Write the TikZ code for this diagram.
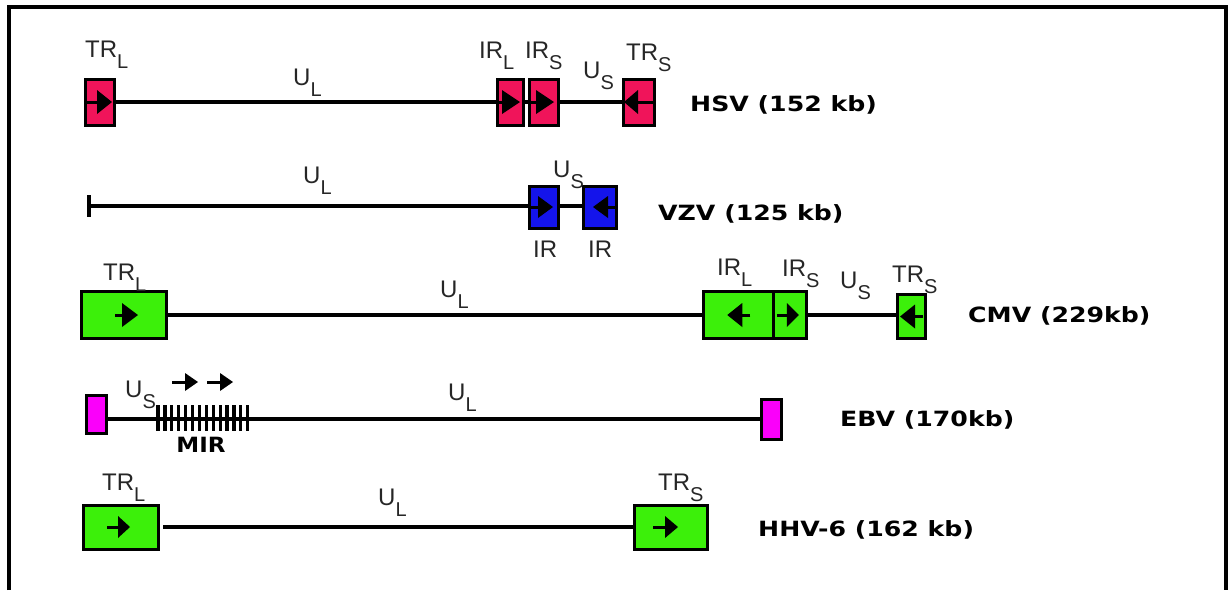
\documentclass[tikz,border=0pt]{standalone}
\usepackage{fontspec}
\setmainfont{Liberation Sans}
\newfontfamily\titlefont{DejaVu Sans}
\usetikzlibrary{calc}
\definecolor{hsvpink}{RGB}{240,20,90}
\definecolor{vzvblue}{RGB}{20,20,235}
\definecolor{cmvgreen}{RGB}{60,240,10}
\definecolor{ebvmag}{RGB}{250,0,250}
\newcommand{\lbl}[2]{#1\raisebox{-11pt}{\fontsize{20}{20}\selectfont #2}}
\newcommand{\ttltext}[1]{\scalebox{1.26}[1.05]{#1}}
\newcommand{\inarrow}[6]{%
  \fill[shift={(#1.center)}, xscale=#2] (#4,-#6) -- (#5,0) -- (#4,#6) -- cycle;
  \draw[shift={(#1.center)}, xscale=#2, line width=3pt] (#3,0) -- (#4+1,0);}
\tikzset{
  gbox/.style n args={2}{draw=black, line width=3pt, inner sep=0pt, minimum width=#1, minimum height=#2},
  dna/.style={line width=3.5pt},
  lab/.style={anchor=base west, inner sep=0pt, text=black!85, font=\fontsize{24}{24}\selectfont},
  ttl/.style={anchor=west, inner sep=0pt, font=\titlefont\bfseries\fontsize{20}{20}\selectfont},
  frameline/.style={line width=4pt},
}
\begin{document}
\begin{tikzpicture}[x=1pt,y=-1pt]
\useasboundingbox (0,0) rectangle (1228,590);
% frame
\coordinate (f1) at (9,590);
\coordinate (f2) at (9,7);
\coordinate (f3) at (1226,7);
\coordinate (f4) at (1226,590);
\draw[frameline] (f1) -- (f2) -- (f3) -- (f4);

% ---------- HSV ----------
\node[gbox={29}{46}, fill=hsvpink] (h_trl) at (100,102) {};
\node[gbox={26}{46}, fill=hsvpink] (h_irl) at (510,102) {};
\node[gbox={29}{46}, fill=hsvpink] (h_irs) at (544,102) {};
\node[gbox={31}{46}, fill=hsvpink] (h_trs) at (639,102) {};
\draw[dna] (h_trl.east) -- (h_irl.west);
\draw[dna] (h_irl.east) -- (h_irs.west);
\draw[dna] (h_irs.east) -- (h_trs.west);
\inarrow{h_trl}{1}{-15}{-3}{12}{12}
\inarrow{h_irl}{1}{-13}{-8}{10}{12}
\inarrow{h_irs}{1}{-14}{-8}{10}{12}
\inarrow{h_trs}{-1}{-16}{1}{15}{12}
\node[lab] (h_l1) at (85,57) {\lbl{TR}{L}};
\node[lab] (h_l2) at (293,85) {\lbl{U}{L}};
\node[lab] (h_l3) at (479,58) {\lbl{IR}{L}};
\node[lab] (h_l4) at (525,58) {\lbl{IR}{S}};
\node[lab] (h_l5) at (583,78) {\lbl{U}{S}};
\node[lab] (h_l6) at (626,60) {\lbl{TR}{S}};
\node[ttl] (h_t) at (690,105) {\ttltext{HSV (152 kb)}};

% ---------- VZV ----------
\coordinate (v_start) at (89,206);
\draw[line width=3.5pt] (89,195) -- (89,217);
\node[gbox={29}{42}, fill=vzvblue] (v_b1) at (544,207) {};
\node[gbox={33}{42}, fill=vzvblue] (v_b2) at (600,207) {};
\draw[dna] (v_start) -- (v_b1.west |- v_start);
\draw[dna] (v_b1.east |- v_start) -- (v_b2.west |- v_start);
\inarrow{v_b1}{1}{-13}{-6}{9}{11}
\inarrow{v_b2}{-1}{-15}{-8}{7}{11}
\node[lab] (v_l1) at (303,183) {\lbl{U}{L}};
\node[lab] (v_l2) at (553,177) {\lbl{U}{S}};
\node[lab] (v_l3) at (533,257) {IR};
\node[lab] (v_l4) at (588,257) {IR};
\node[ttl] (v_t) at (658,214) {\ttltext{VZV (125 kb)}};

% ---------- CMV ----------
\node[gbox={85}{47}, fill=cmvgreen] (c_trl) at (124,315) {};
\node[gbox={69.5}{47}, fill=cmvgreen] (c_irl) at (738.25,315) {};
\node[gbox={33.5}{47}, fill=cmvgreen] (c_irs) at (789.75,315) {};
\node[gbox={28}{44}, fill=cmvgreen] (c_trs) at (911.5,316.5) {};
\draw[dna] (c_trl.east) -- (c_irl.west);
\draw[dna] (c_irs.east) -- (c_trs.west |- c_irs.east);
\inarrow{c_trl}{1}{-9}{-2}{14}{12}
\inarrow{c_irl}{-1}{-12}{-4}{11}{12}
\inarrow{c_irs}{1}{-13}{-3}{9}{12}
\inarrow{c_trs}{-1}{-11.5}{-3.5}{11.5}{12}
\node[lab] (c_l1) at (103,280) {\lbl{TR}{L}};
\node[lab] (c_l2) at (440,297) {\lbl{U}{L}};
\node[lab] (c_l3) at (717,275) {\lbl{IR}{L}};
\node[lab] (c_l4) at (782,276) {\lbl{IR}{S}};
\node[lab] (c_l5) at (840,288) {\lbl{U}{S}};
\node[lab] (c_l6) at (892,282) {\lbl{TR}{S}};
\node[ttl] (c_t) at (968,316) {\ttltext{CMV (229kb)}};

% ---------- EBV ----------
\node[gbox={20}{38}, fill=ebvmag] (e_b1) at (96,414) {};
\node[gbox={20}{40}, fill=ebvmag] (e_b2) at (771.5,419) {};
\draw[dna] (e_b1.east |- e_b2.west) -- (e_b2.west);
\foreach \i in {0,...,13}
  \draw[line width=3.2pt] (158+\i*6.9,405) -- (158+\i*6.9,431);
\foreach \s in {0,35} {
  \draw[line width=3pt] (172+\s,382) -- (189+\s,382);
  \fill (185+\s,373) -- (198+\s,382) -- (185+\s,391) -- cycle;
}
\node[lab] (e_l1) at (125,397) {\lbl{U}{S}};
\node[lab] (e_l2) at (448,400) {\lbl{U}{L}};
\node[anchor=center, inner sep=0pt, font=\titlefont\bfseries\fontsize{20}{20}\selectfont] (e_mir) at (201,445) {\scalebox{1.15}[1.05]{MIR}};
\node[ttl] (e_t) at (840,420) {\ttltext{EBV (170kb)}};

% ---------- HHV-6 ----------
\node[gbox={75}{44}, fill=cmvgreen] (g_trl) at (121,527) {};
\node[gbox={73}{44}, fill=cmvgreen] (g_trs) at (671,527) {};
\draw[dna] ($(g_trl.east)+(3,0)$) -- (g_trs.west);
\inarrow{g_trl}{1}{-14}{-3}{9}{11}
\inarrow{g_trs}{1}{-18}{-6}{7}{11}
\node[lab] (g_l1) at (102,490) {\lbl{TR}{L}};
\node[lab] (g_l2) at (378,505) {\lbl{U}{L}};
\node[lab] (g_l3) at (658,490) {\lbl{TR}{S}};
\node[ttl] (g_t) at (758,530) {\ttltext{HHV-6 (162 kb)}};
\end{tikzpicture}
\end{document}
